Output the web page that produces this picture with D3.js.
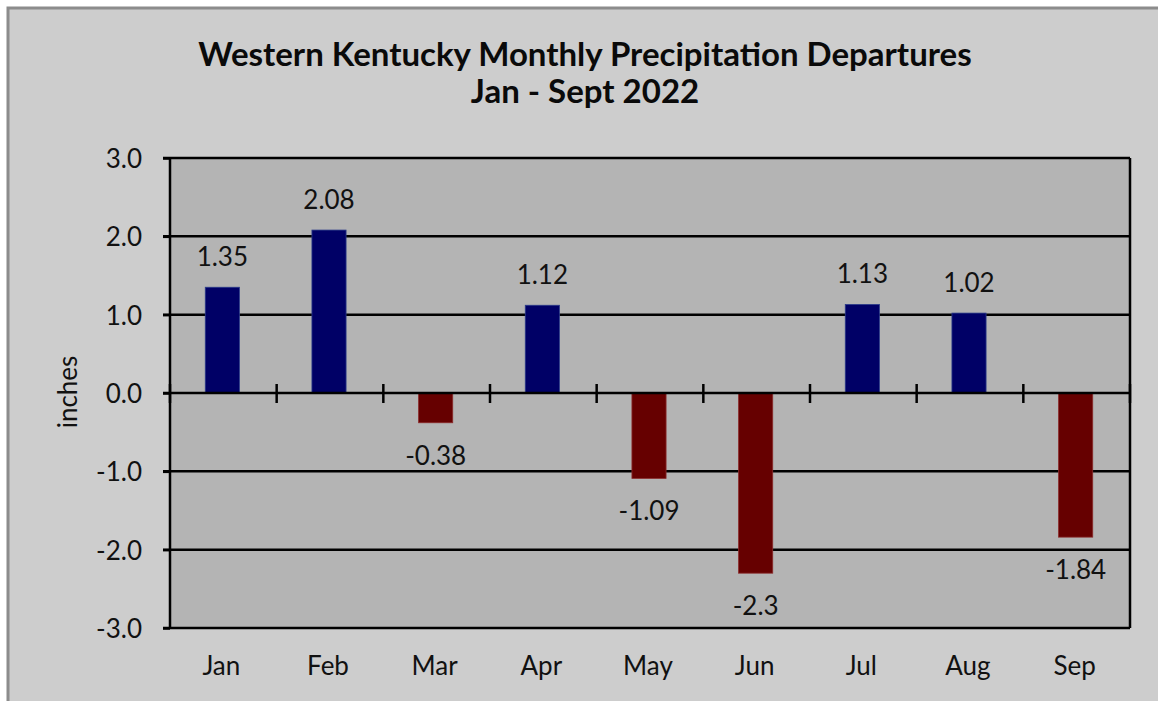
<!DOCTYPE html>
<html>
<head>
<meta charset="utf-8">
<script src="https://cdn.jsdelivr.net/npm/d3@7"></script>
<style>
  html, body { margin: 0; padding: 0; background: #ffffff; }
  svg { display: block; font-family: Lato, "Open Sans", sans-serif; }
</style>
</head>
<body>
<div id="chart"></div>
<script>
const months = ["Jan", "Feb", "Mar", "Apr", "May", "Jun", "Jul", "Aug", "Sep"];
const departures = [1.35, 2.08, -0.38, 1.12, -1.09, -2.3, 1.13, 1.02, -1.84];
const valueLabels = ["1.35", "2.08", "-0.38", "1.12", "-1.09", "-2.3", "1.13", "1.02", "-1.84"];
const yTicks = [-3, -2, -1, 0, 1, 2, 3];
const titleLines = ["Western Kentucky Monthly Precipitation Departures", "Jan - Sept 2022"];

function init() {
    const w = 1158;
    const h = 701;
    const left = 170, right = 1130, top = 158, bottom = 628;

    const svg = d3.select("#chart")
        .append("svg")
        .attr("width", w)
        .attr("height", h);

    // outer chart area
    svg.append("rect")
        .attr("x", 0).attr("y", 0)
        .attr("width", w).attr("height", h)
        .attr("fill", "#ffffff");
    svg.append("rect")
        .attr("x", 8).attr("y", 8)
        .attr("width", w).attr("height", h)
        .attr("fill", "#cdcdcd")
        .attr("stroke", "#8c8c8c")
        .attr("stroke-width", 3);

    const x = d3.scaleBand()
        .domain(months)
        .range([left, right]);

    const y = d3.scaleLinear()
        .domain([-3, 3])
        .range([bottom, top]);

    // plot area
    svg.append("rect")
        .attr("x", left).attr("y", top)
        .attr("width", right - left).attr("height", bottom - top)
        .attr("fill", "#b4b4b4");

    // grid lines
    svg.append("g")
        .selectAll("line")
        .data(yTicks.filter(d => d !== 0))
        .enter().append("line")
        .attr("x1", left - 7)
        .attr("x2", right)
        .attr("y1", d => y(d))
        .attr("y2", d => y(d))
        .attr("stroke", "#000")
        .attr("stroke-width", 2.5);

    // right border of plot
    svg.append("line")
        .attr("x1", right).attr("x2", right)
        .attr("y1", top).attr("y2", bottom)
        .attr("stroke", "#000")
        .attr("stroke-width", 2.5);

    // bars
    const barW = x.bandwidth() * 0.32;
    svg.append("g")
        .selectAll("rect")
        .data(departures)
        .enter().append("rect")
        .attr("x", (d, i) => x(months[i]) + x.bandwidth() / 2 - barW / 2 - 1)
        .attr("y", d => y(Math.max(0, d)))
        .attr("width", barW)
        .attr("height", d => Math.abs(y(d) - y(0)))
        .attr("fill", d => d >= 0 ? "#000066" : "#660000")
        .attr("stroke", d => d >= 0 ? "#2a3a8a" : "#8a2a2a")
        .attr("stroke-width", 0.8);

    // y axis
    const fmt = d3.format(".1f");
    const yAxis = svg.append("g")
        .attr("transform", `translate(${left},0)`)
        .call(d3.axisLeft(y)
            .tickValues(yTicks)
            .tickSize(7)
            .tickPadding(21)
            .tickFormat(d => fmt(d).replace("\u2212", "-")));
    yAxis.select(".domain")
        .attr("stroke", "#000")
        .attr("stroke-width", 2.5)
        .attr("d", `M0,${top}V${bottom}`);
    yAxis.selectAll(".tick line").attr("stroke", "#000").attr("stroke-width", 2.5);
    yAxis.selectAll(".tick text")
        .attr("font-size", 26)
        .attr("font-family", "Lato, sans-serif")
        .attr("fill", "#111")
        .attr("dy", "0.36em");

    // zero axis with category ticks
    const zero = svg.append("g")
        .attr("transform", `translate(0,${y(0)})`);
    zero.append("line")
        .attr("x1", left - 7).attr("x2", right)
        .attr("stroke", "#000").attr("stroke-width", 2.5);
    const boundaries = months.map(m => x(m)).concat([right]);
    zero.selectAll("line.cat")
        .data(boundaries)
        .enter().append("line")
        .attr("class", "cat")
        .attr("x1", d => d).attr("x2", d => d)
        .attr("y1", -9).attr("y2", 10)
        .attr("stroke", "#000").attr("stroke-width", 2.5);

    // x labels
    svg.append("g")
        .selectAll("text")
        .data(months)
        .enter().append("text")
        .attr("x", d => x(d) + x.bandwidth() / 2 - 2)
        .attr("y", 675)
        .attr("text-anchor", "middle")
        .attr("font-size", 26)
        .attr("fill", "#111")
        .text(d => d);

    // value labels
    svg.append("g")
        .selectAll("text")
        .data(departures)
        .enter().append("text")
        .attr("x", (d, i) => x(months[i]) + x.bandwidth() / 2 - 1)
        .attr("y", d => d >= 0 ? y(d) - 21 : y(d) + 42)
        .attr("text-anchor", "middle")
        .attr("font-size", 26)
        .attr("fill", "#111")
        .text((d, i) => valueLabels[i]);

    // y axis title
    svg.append("text")
        .attr("transform", "translate(77,392) rotate(-90)")
        .attr("text-anchor", "middle")
        .attr("font-size", 26)
        .attr("fill", "#111")
        .text("inches");

    // title
    svg.append("g")
        .selectAll("text")
        .data(titleLines)
        .enter().append("text")
        .attr("x", 585)
        .attr("y", (d, i) => 66 + i * 37)
        .attr("text-anchor", "middle")
        .attr("font-size", 33)
        .attr("font-weight", "bold")
        .attr("fill", "#0a0a0a")
        .text(d => d);
}

window.onload = init;
</script>
</body>
</html>
